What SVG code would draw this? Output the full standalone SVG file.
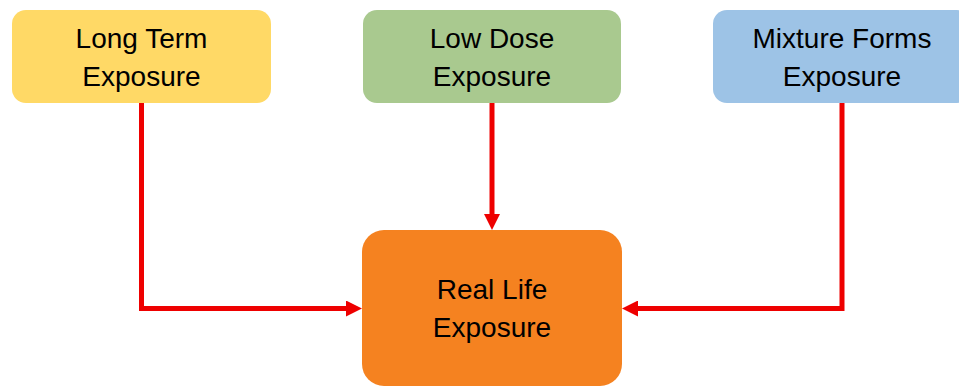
<svg xmlns="http://www.w3.org/2000/svg" width="959" height="386" viewBox="0 0 959 386">
<style>
text{font-family:"Liberation Sans",Arial,sans-serif;font-size:28px;fill:#000;text-anchor:middle}
.c{fill:none;stroke:#EE0000;stroke-width:5}
</style>
<defs>
<marker id="ah" markerUnits="userSpaceOnUse" markerWidth="16" markerHeight="16" refX="1" refY="8" orient="auto">
<path d="M0,0 L16,8 L0,16 Z" fill="#EE0000"/>
</marker>
</defs>
<rect width="959" height="386" fill="#fff"/>
<g id="n1">
<rect x="12" y="10" width="259" height="93" rx="14" fill="#FFD966"/>
<text x="141.5" y="48">Long Term</text>
<text x="141.5" y="86">Exposure</text>
</g>
<g id="n2">
<rect x="363" y="10" width="258" height="93" rx="14" fill="#A9C98F"/>
<text x="492" y="48">Low Dose</text>
<text x="492" y="86">Exposure</text>
</g>
<g id="n3">
<rect x="713" y="10" width="258" height="93" rx="14" fill="#9DC3E6"/>
<text x="842" y="48">Mixture Forms</text>
<text x="842" y="86">Exposure</text>
</g>
<g id="n4">
<rect x="362" y="230" width="260" height="156" rx="22" fill="#F58220"/>
<text x="492" y="299">Real Life</text>
<text x="492" y="337">Exposure</text>
</g>
<g id="connectors">
<path class="c" d="M141.5,103 V308.5 H347" marker-end="url(#ah)"/>
<path class="c" d="M492,103 V215" marker-end="url(#ah)"/>
<path class="c" d="M842,103 V308.5 H637" marker-end="url(#ah)"/>
</g>
</svg>
